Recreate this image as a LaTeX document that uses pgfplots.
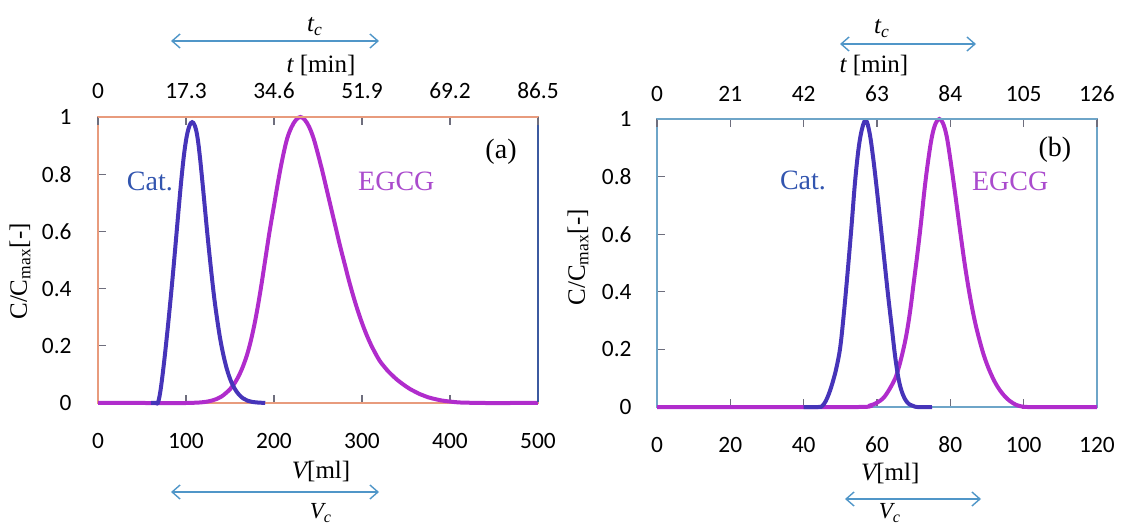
\documentclass[border=0pt]{standalone}
\usepackage{fontspec}
\setmainfont{Liberation Serif}
\newfontfamily\calibri{Carlito}
\usepackage{pgfplots}
\pgfplotsset{compat=1.18}
\usetikzlibrary{arrows.meta}

\definecolor{catc}{RGB}{70,52,185}
\definecolor{egcgc}{RGB}{176,44,204}
\definecolor{catlabel}{RGB}{50,85,175}
\definecolor{egcglabel}{RGB}{170,75,205}
\definecolor{frameA}{RGB}{232,155,125}
\definecolor{frameAr}{RGB}{60,90,160}
\definecolor{frameB}{RGB}{110,165,200}
\definecolor{arrowc}{RGB}{80,150,200}
\definecolor{tickc}{RGB}{110,110,125}

\newcommand\ticks{\calibri\fontsize{11.7}{13}\selectfont}
\newcommand\lbl{\fontsize{12.5}{14}\selectfont}
\newcommand\lblbig{\fontsize{14}{16}\selectfont}

% elution profiles, panel (a): V in ml
\pgfplotstableread{
V C
60 0
66 0
68 0
70 0.025
72 0.065
75 0.14
78 0.225
80 0.285
83 0.38
86 0.48
89 0.585
92 0.69
95 0.79
98 0.875
101 0.935
104 0.97
107 0.982
110 0.97
113 0.93
116 0.855
120 0.73
124 0.60
128 0.48
132 0.37
136 0.28
140 0.205
145 0.135
150 0.085
155 0.052
160 0.03
165 0.016
170 0.008
175 0.004
180 0.002
185 0.001
190 0
}\catA

\pgfplotstableread{
V C
0 0
50 0
100 0
110 0.001
120 0.003
130 0.009
140 0.022
150 0.048
155 0.068
160 0.095
165 0.13
170 0.175
175 0.235
180 0.31
185 0.40
190 0.50
195 0.60
200 0.69
205 0.78
210 0.86
215 0.925
220 0.965
225 0.99
230 1.0
235 0.99
240 0.965
245 0.925
250 0.87
255 0.81
260 0.745
265 0.68
270 0.615
275 0.55
280 0.49
285 0.43
290 0.375
295 0.325
300 0.28
305 0.24
310 0.205
315 0.175
320 0.148
325 0.128
330 0.11
335 0.095
340 0.081
345 0.069
350 0.058
355 0.048
360 0.04
365 0.032
370 0.026
375 0.02
380 0.016
390 0.009
400 0.005
410 0.002
420 0.001
440 0
470 0
500 0
}\egcgA

% panel (b)
\pgfplotstableread{
V C
40 0
44 0
45 0.003
46 0.02
47 0.05
48 0.09
49 0.14
50 0.21
51 0.33
52 0.47
53 0.62
54 0.78
55 0.90
56 0.97
57 0.995
58 0.95
59 0.86
60 0.75
61 0.63
62 0.51
63 0.39
64 0.28
65 0.17
66 0.09
67 0.045
68 0.02
69 0.008
70 0.003
71 0
75 0
}\catB

\pgfplotstableread{
V C
0 0
30 0
55 0
58 0.005
60 0.015
62 0.035
64 0.075
65 0.10
66 0.14
67 0.19
68 0.25
69 0.33
70 0.43
71 0.53
72 0.64
73 0.76
74 0.86
75 0.94
76 0.985
77 1.0
78 0.985
79 0.94
80 0.86
81 0.77
82 0.675
83 0.58
84 0.49
85 0.41
86 0.34
87 0.28
88 0.23
89 0.185
90 0.148
91 0.117
92 0.09
93 0.068
94 0.05
95 0.035
96 0.023
97 0.014
98 0.007
99 0.003
100 0.001
101 0
110 0
120 0
}\egcgB

\pgfplotsset{
  panel/.style={
    anchor=south west, scale only axis, width=220pt,
    xmin=0, ymin=0, ymax=1,
    clip=false, tick align=inside, major tick length=4pt,
    ytick pos=left, xtick pos=bottom,
    ytick={0,0.2,0.4,0.6,0.8,1},
    yticklabels={0,0.2,0.4,0.6,0.8,1},
    tick style={tickc, line width=0.6pt},
    ticklabel style={font=\ticks},
    xticklabel style={anchor=center, yshift=-19pt},
    ylabel={C/C\textsubscript{max}[-]},
    ylabel style={font=\lbl, anchor=center},
    xlabel={{\itshape V}[ml]},
    xlabel style={font=\lbl, anchor=center},
    axis line style={line width=0.8pt},
    every axis plot/.append style={line width=2pt, smooth, tension=0.6},
  },
  toppanel/.style={
    anchor=south west, scale only axis, width=220pt,
    xmin=0, ymin=0, ymax=1,
    axis x line=top, axis y line=none,
    axis line style={-, line width=0.8pt},
    tick align=inside, major tick length=4pt,
    tick style={tickc, line width=0.6pt},
    ytick=\empty,
    ticklabel style={font=\ticks},
    xlabel={{\itshape t} [min]},
    xlabel style={font=\lbl, anchor=center},
  },
}

\begin{document}
\begin{tikzpicture}
\useasboundingbox (0,0) rectangle (561.5pt,262pt);
\clip (0,0) rectangle (561.5pt,262pt);

% ---------- panel (a) ----------
\begin{axis}[panel, at={(49pt,60.5pt)}, height=143pt, xmax=500,
  xtick={0,100,200,300,400,500},
  xticklabels={0,100,200,300,400,500},
  yticklabel style={anchor=east, inner sep=0pt, xshift=-13pt},
  axis line style={frameA},
  ylabel style={at={(axis description cs:0,0.46)}, yshift=39pt},
  xlabel style={at={(axis description cs:0.507,0)}, yshift=-34pt}]
  \addplot[egcgc] table[x=V, y=C] {\egcgA};
  \addplot[catc] table[x=V, y=C] {\catA};
  \draw[frameAr, line width=0.8pt] (rel axis cs:1,0.004) -- (rel axis cs:1,1);
  \node[catlabel, font=\lblbig] at (axis cs:59,0.776) {Cat.};
  \node[egcglabel, font=\lblbig] at (axis cs:339,0.776) {EGCG};
  \node[font=\lblbig] at (axis cs:458,0.878) {(a)};
\end{axis}
\begin{axis}[toppanel, at={(49pt,60.5pt)}, height=143pt, xmax=86.5,
  x axis line style={frameA},
  xtick={0,17.3,34.6,51.9,69.2,86.5},
  xticklabels={0,17.3,34.6,51.9,69.2,86.5},
  xticklabel style={anchor=center, yshift=13pt},
  xlabel style={at={(axis description cs:0.507,1)}, yshift=25.5pt}]
\end{axis}

% ---------- panel (b) ----------
\begin{axis}[panel, at={(328.5pt,58.5pt)}, height=144pt, xmax=120,
  xtick={0,20,40,60,80,100,120},
  xticklabels={0,20,40,60,80,100,120},
  yticklabel style={anchor=east, inner sep=0pt, xshift=-12.5pt},
  axis line style={frameB},
  ylabel style={at={(axis description cs:0,0.52)}, yshift=39.5pt},
  xlabel style={at={(axis description cs:0.53,0)}, yshift=-33pt}]
  \addplot[egcgc] table[x=V, y=C] {\egcgB};
  \addplot[catc] table[x=V, y=C] {\catB};
  \node[catlabel, font=\lblbig] at (axis cs:39.8,0.785) {Cat.};
  \node[egcglabel, font=\lblbig] at (axis cs:96.3,0.785) {EGCG};
  \node[font=\lblbig] at (axis cs:108.5,0.892) {(b)};
\end{axis}
\begin{axis}[toppanel, at={(328.5pt,58.5pt)}, height=144pt, xmax=126,
  x axis line style={frameB},
  xtick={0,21,42,63,84,105,126},
  xticklabels={0,21,42,63,84,105,126},
  xticklabel style={anchor=center, yshift=12.5pt},
  xlabel style={at={(axis description cs:0.493,1)}, yshift=26.5pt}]
\end{axis}

% ---------- characteristic intervals ----------
\tikzset{span/.style={arrowc, line width=0.7pt,
  {Straight Barb[length=4pt,width=7pt]}-{Straight Barb[length=4pt,width=7pt]}}}
\draw[span] (85.5pt,241.5pt) -- (189.5pt,241.5pt);
\node[font=\lbl, anchor=base] at (157.5pt,246pt) {{\itshape t\textsubscript{c}}};
\draw[span] (85.5pt,16pt) -- (189.5pt,16pt);
\node[font=\fontsize{11.5}{13}\selectfont, anchor=base] at (160.5pt,2.6pt) {{\itshape V\textsubscript{c}}};

\draw[span] (420pt,240pt) -- (488pt,240pt);
\node[font=\lbl, anchor=base] at (441pt,245pt) {{\itshape t\textsubscript{c}}};
\draw[span] (422.5pt,12.5pt) -- (490.5pt,12.5pt);
\node[font=\fontsize{11.5}{13}\selectfont, anchor=base] at (445pt,2.6pt) {{\itshape V\textsubscript{c}}};
\end{tikzpicture}
\end{document}
